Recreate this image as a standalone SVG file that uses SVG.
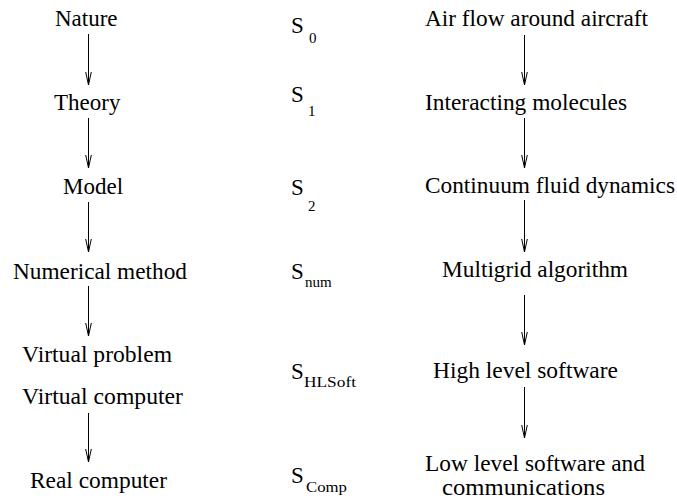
<svg xmlns="http://www.w3.org/2000/svg" width="677" height="500" viewBox="0 0 677 500" font-family="'Liberation Serif', 'Times New Roman', Times, serif">
<defs>
<style>
text{fill:#000}
.t{font-size:23px}
.s{font-size:23px}
.sub{font-size:15px}
.c path{fill:none;stroke:#000;stroke-width:1}
</style>
</defs>
<rect width="677" height="500" fill="#fff"/>
<g id="connectors" class="c">
<path d="M88.5,34 V85"/><path d="M85.7,72 L88.5,85 L91.3,72"/>
<path d="M88.5,118 V168"/><path d="M85.7,155 L88.5,168 L91.3,155"/>
<path d="M88.5,202 V252"/><path d="M85.7,239 L88.5,252 L91.3,239"/>
<path d="M88.5,286 V336"/><path d="M85.7,323 L88.5,336 L91.3,323"/>
<path d="M88.5,413 V462"/><path d="M85.7,449 L88.5,462 L91.3,449"/>
<path d="M524.5,35 V85"/><path d="M521.7,72 L524.5,85 L527.3,72"/>
<path d="M524.5,118 V168"/><path d="M521.7,155 L524.5,168 L527.3,155"/>
<path d="M524.5,200 V252"/><path d="M521.7,239 L524.5,252 L527.3,239"/>
<path d="M524.5,295 V345"/><path d="M521.7,332 L524.5,345 L527.3,332"/>
<path d="M524.5,387 V438"/><path d="M521.7,425 L524.5,438 L527.3,425"/>
</g>
<g id="nature"><text class="t" x="55" y="26">Nature</text></g>
<g id="theory"><text class="t" x="54" y="110">Theory</text></g>
<g id="model"><text class="t" x="63" y="194">Model</text></g>
<g id="numerical-method"><text class="t" x="13" y="279" textLength="174" lengthAdjust="spacingAndGlyphs">Numerical method</text></g>
<g id="virtual-problem"><text class="t" x="22" y="362" textLength="150" lengthAdjust="spacingAndGlyphs">Virtual problem</text></g>
<g id="virtual-computer"><text class="t" x="22" y="404" textLength="161" lengthAdjust="spacingAndGlyphs">Virtual computer</text></g>
<g id="real-computer"><text class="t" x="30" y="488" textLength="137" lengthAdjust="spacingAndGlyphs">Real computer</text></g>
<g id="s0"><text class="s" x="291" y="33">S</text><text class="sub" x="309" y="43">0</text></g>
<g id="s1"><text class="s" x="291" y="102">S</text><text class="sub" x="308" y="116">1</text></g>
<g id="s2"><text class="s" x="291" y="195">S</text><text class="sub" x="308" y="211">2</text></g>
<g id="snum"><text class="s" x="291" y="279">S</text><text class="sub" x="305" y="287">num</text></g>
<g id="shlsoft"><text class="s" x="291" y="379">S</text><text class="sub" x="304" y="387" textLength="52" lengthAdjust="spacingAndGlyphs">HLSoft</text></g>
<g id="scomp"><text class="s" x="291" y="483">S</text><text class="sub" x="306" y="492" textLength="41" lengthAdjust="spacingAndGlyphs">Comp</text></g>
<g id="air-flow"><text class="t" x="425" y="26" textLength="223" lengthAdjust="spacingAndGlyphs">Air flow around aircraft</text></g>
<g id="interacting-molecules"><text class="t" x="425" y="110" textLength="202" lengthAdjust="spacingAndGlyphs">Interacting molecules</text></g>
<g id="continuum"><text class="t" x="425" y="193" textLength="250" lengthAdjust="spacingAndGlyphs">Continuum fluid dynamics</text></g>
<g id="multigrid"><text class="t" x="442" y="277" textLength="186" lengthAdjust="spacingAndGlyphs">Multigrid algorithm</text></g>
<g id="high-level"><text class="t" x="433" y="378" textLength="185" lengthAdjust="spacingAndGlyphs">High level software</text></g>
<g id="low-level"><text class="t" x="425" y="471" textLength="220" lengthAdjust="spacingAndGlyphs">Low level software and</text><text class="t" x="442" y="495" textLength="163" lengthAdjust="spacingAndGlyphs">communications</text></g>
</svg>
